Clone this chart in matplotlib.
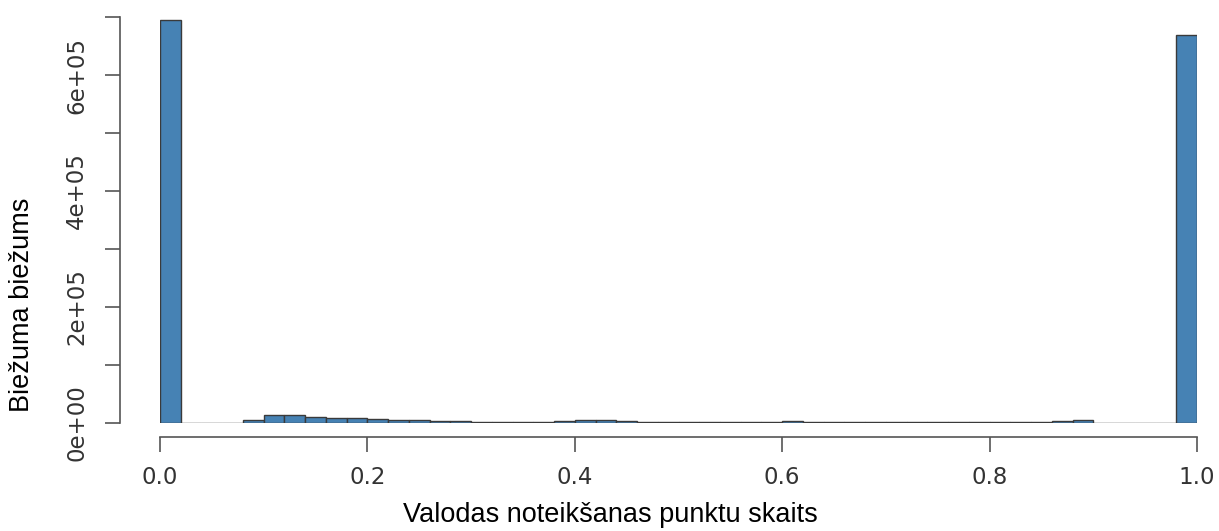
import matplotlib
matplotlib.use("Agg")
import matplotlib.pyplot as plt
import numpy as np

bin_edges = [round(0.02 * i, 2) for i in range(51)]
counts = [695000, 0, 0, 0, 6000, 13000, 13000, 11000, 8000, 8000,
          7500, 6000, 5000, 4000, 3000, 2500, 2500, 2500, 2500, 3000,
          5000, 5000, 3000, 2000, 1500, 1500, 1500, 1500, 1500, 1500,
          3000, 2500, 1500, 1500, 1500, 1500, 1500, 1500, 1500, 2000,
          2500, 2000, 2000, 3000, 4500, 0, 0, 0, 0, 669000]
xticks = [0.0, 0.2, 0.4, 0.6, 0.8, 1.0]
xticklabels = ["0.0", "0.2", "0.4", "0.6", "0.8", "1.0"]
yticks = [0, 100000, 200000, 300000, 400000, 500000, 600000, 700000]
yticklabels = ["0e+00", "", "2e+05", "", "4e+05", "", "6e+05", ""]

W, H = 1219, 531
fig = plt.figure(figsize=(W / 100, H / 100), dpi=100)
ax = fig.add_axes([160 / W, (H - 423) / H, 1037 / W, 406 / H])

lefts = np.array(bin_edges[:-1])
widths = np.diff(bin_edges)
ax.bar(lefts, counts, width=widths, align="edge", color="#4682B4",
       edgecolor="#3a3a3a", linewidth=1.0)

ax.set_xlim(0, 1)
ax.set_ylim(0, 700000)

for s in ["top", "right"]:
    ax.spines[s].set_visible(False)
px = 0.72
ax.spines["left"].set_position(("outward", 40 * px))
ax.spines["bottom"].set_position(("outward", 14 * px))
ax.spines["left"].set_bounds(0, 700000)
ax.spines["bottom"].set_bounds(0, 1)
for s in ["left", "bottom"]:
    ax.spines[s].set_color("#555555")
    ax.spines[s].set_linewidth(1.2)

ax.set_xticks(xticks)
ax.set_xticklabels(xticklabels, fontsize=16.5, color="#333333", family="DejaVu Sans")
ax.set_yticks(yticks)
ax.set_yticklabels(yticklabels, fontsize=16.5, color="#333333", family="DejaVu Sans",
                   rotation=90, va="center")
ax.tick_params(axis="x", length=11, width=1.2, color="#555555", pad=10)
ax.tick_params(axis="y", length=11, width=1.2, color="#555555", pad=12)

ax.set_xlabel("Valodas noteikšanas punktu skaits", fontsize=19.5,
              family="Liberation Sans", va="center")
ax.xaxis.set_label_coords((610 - 160) / 1037, (423 - 515) / 406)
ax.set_ylabel("Biežuma biežums", fontsize=19.5, family="Liberation Sans", va="center")
ax.yaxis.set_label_coords((22 - 160) / 1037, (423 - 305) / 406)

fig.savefig("out.png", dpi=100)
